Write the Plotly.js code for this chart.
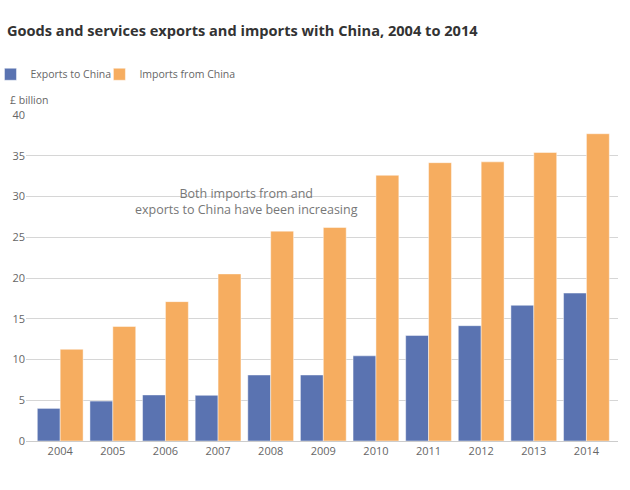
<!DOCTYPE html>
<html>
<head>
<meta charset="utf-8">
<script src="https://cdn.plot.ly/plotly-3.0.1.min.js"></script>
<style>html,body{margin:0;padding:0;background:#fff;}#chart{width:630px;height:490px;}</style>
</head>
<body>
<div id="chart"></div>
<script>
const years = ["2004","2005","2006","2007","2008","2009","2010","2011","2012","2013","2014"];
const exportsToChina = [4.0, 4.9, 5.65, 5.6, 8.1, 8.1, 10.45, 12.95, 14.15, 16.65, 18.15];
const importsFromChina = [11.25, 14.05, 17.1, 20.5, 25.75, 26.2, 32.6, 34.15, 34.25, 35.4, 37.7];
const seriesNames = ["Exports to China", "Imports from China"];
const yTicks = [0, 5, 10, 15, 20, 25, 30, 35, 40];

const font = "'Open Sans', 'Noto Sans', sans-serif";

const traces = [
  {type: "bar", name: seriesNames[0], x: years, y: exportsToChina, legend: "legend",
   marker: {color: "#5a73b1", line: {color: "rgba(255,255,255,0.45)", width: 1}},
   hoverinfo: "none"},
  {type: "bar", name: seriesNames[1], x: years, y: importsFromChina, legend: "legend2",
   marker: {color: "#f6ad60", line: {color: "rgba(255,255,255,0.45)", width: 1}},
   hoverinfo: "none"}
];

const legendBase = {orientation: "h", xanchor: "left", y: 1.125, yanchor: "middle",
  font: {family: font, size: 10.5, color: "#666"}, itemclick: false, bgcolor: "rgba(0,0,0,0)"};

const layout = {
  width: 630, height: 490,
  paper_bgcolor: "#fff", plot_bgcolor: "#fff",
  font: {family: font, color: "#666", size: 11},
  margin: {l: 26, r: 12, t: 115, b: 49, autoexpand: false},
  title: {text: "<b>Goods and services exports and imports with China, 2004 to 2014</b>",
          xref: "container", yref: "container",
          x: 0.011, xanchor: "left", y: 0.937, yanchor: "middle",
          font: {family: font, size: 14.6, color: "#333"}},
  barmode: "group", bargap: 0.13, bargroupgap: 0,
  showlegend: true,
  legend: Object.assign({}, legendBase, {x: -0.06}),
  legend2: Object.assign({}, legendBase, {x: 0.124}),
  xaxis: {type: "category", range: [-0.65, 10.6], showgrid: false, showline: true,
          linecolor: "#ccc", linewidth: 1, ticks: "", tickfont: {size: 11, color: "#666"},
          fixedrange: true},
  yaxis: {range: [0, 40], tickvals: yTicks, showgrid: true, gridcolor: "#d6d6d6", gridwidth: 1,
          zeroline: false, showline: false, ticks: "", tickfont: {size: 11, color: "#666"},
          fixedrange: true},
  shapes: [
    {type: "line", xref: "paper", yref: "y", x0: 0, x1: 1, y0: 40, y1: 40,
     line: {color: "#fff", width: 2}, layer: "above"}
  ],
  annotations: [
    {text: "£ billion", xref: "paper", yref: "paper", x: -0.03, y: 1.046, xanchor: "left", yanchor: "middle",
     showarrow: false, font: {family: font, size: 10.5, color: "#666"}},
    {text: "Both imports from and<br>exports to China have been increasing", xref: "paper", yref: "y",
     x: 0.373, y: 29.4, xanchor: "center", yanchor: "middle", showarrow: false, align: "center",
     font: {family: font, size: 12.5, color: "#777"}}
  ]
};

Plotly.newPlot("chart", traces, layout, {displayModeBar: false, staticPlot: true});
</script>
</body>
</html>
